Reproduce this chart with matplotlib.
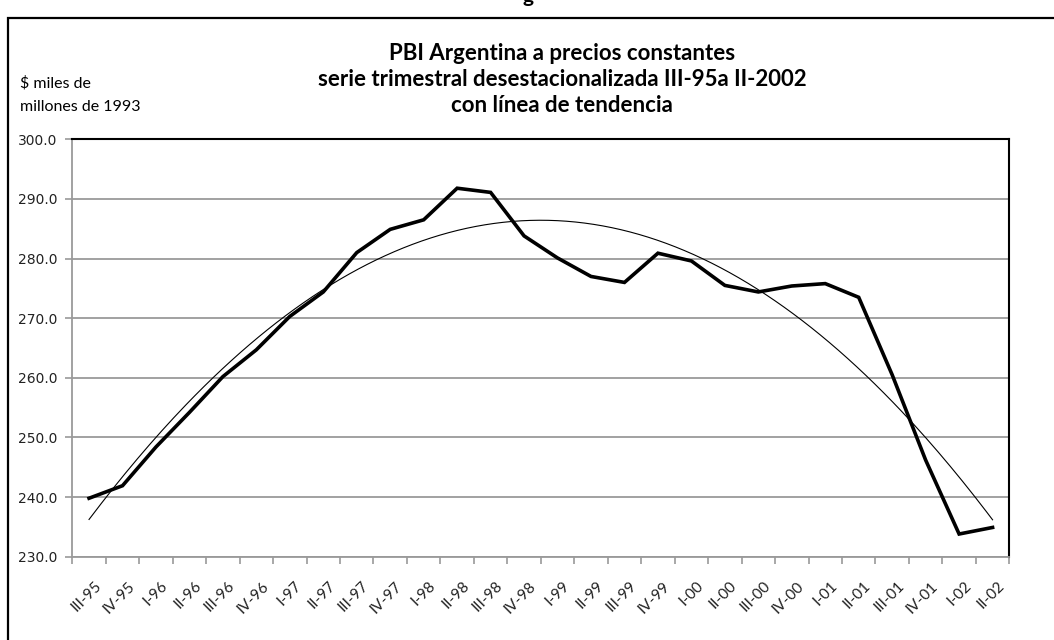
import numpy as np
import matplotlib
matplotlib.use("Agg")
import matplotlib.pyplot as plt
from matplotlib.patches import Rectangle
from matplotlib.transforms import ScaledTranslation

# quarters III-95 .. II-02, PBI in miles de millones de pesos de 1993 (s.a.)
quarters = ["III-95", "IV-95", "I-96", "II-96", "III-96", "IV-96", "I-97", "II-97",
            "III-97", "IV-97", "I-98", "II-98", "III-98", "IV-98", "I-99", "II-99",
            "III-99", "IV-99", "I-00", "II-00", "III-00", "IV-00", "I-01", "II-01",
            "III-01", "IV-01", "I-02", "II-02"]
pbi = [239.8, 241.9, 248.4, 254.2, 260.2, 264.7, 270.3, 274.4,
       281.0, 284.9, 286.5, 291.8, 291.1, 283.8, 280.1, 277.0,
       276.0, 280.9, 279.6, 275.5, 274.4, 275.4, 275.8, 273.5,
       260.5, 246.2, 233.8, 234.9]

y_ticks = [230, 240, 250, 260, 270, 280, 290, 300]

x = np.arange(len(quarters))
# polynomial (order 2) trend line, as in the spreadsheet
coef = np.polyfit(x, pbi, 2)
xs = np.linspace(0, len(quarters) - 1, 300)
trend_s = np.polyval(coef, xs)

fig = plt.figure(figsize=(10.54, 6.4), dpi=100)
ax = fig.add_axes([0.0686, 0.1302, 0.889, 0.6521])

# outer chart frame (continues past the picture edge)
fig.patches.append(Rectangle((7.5 / 1054, -0.1), 1.2, 1 - 18 / 640 + 0.1,
                             transform=fig.transFigure, fill=False,
                             edgecolor="black", linewidth=1.6, zorder=0))
# bit of text cut off above the frame
fig.text(528 / 1054, 1 - 2 / 640, "g", ha="center", va="baseline",
         fontsize=15, fontweight="bold", family="Lato")

ax.plot(xs, trend_s, color="black", linewidth=0.8, zorder=3)
ax.plot(x, pbi, color="black", linewidth=2.6, solid_joinstyle="miter", zorder=4)

ax.set_xlim(-0.5, len(quarters) - 0.5)
ax.set_ylim(230, 300)
ax.set_yticks(y_ticks)
ax.set_yticklabels([f"{v:.1f}" for v in y_ticks], family="DejaVu Sans",
                   fontsize=10, color="#222222")
ax.yaxis.grid(True, color="#9a9a9a", linewidth=1.3)
ax.set_axisbelow(True)

ax.set_xticks(x)
ax.set_xticks(np.arange(len(quarters) + 1) - 0.5, minor=True)
ax.set_xticklabels(quarters, rotation=45, ha="right", rotation_mode="anchor",
                   family="Lato", fontsize=11, color="#222222")
ax.tick_params(axis="x", which="major", length=0, pad=16)
ax.tick_params(axis="x", which="minor", length=5, width=1.2, color="#9a9a9a",
               direction="out")
ax.tick_params(axis="y", length=5, width=1.2, color="#9a9a9a", pad=6)
for lab in ax.get_xticklabels():
    lab.set_transform(lab.get_transform() + ScaledTranslation(5 / 100, 0, fig.dpi_scale_trans))

for s in ["left", "bottom"]:
    ax.spines[s].set_color("#9a9a9a")
    ax.spines[s].set_linewidth(1.3)
for s in ["top", "right"]:
    ax.spines[s].set_color("black")
    ax.spines[s].set_linewidth(1.5)

title_lines = ["PBI Argentina a precios constantes",
               "serie trimestral desestacionalizada III-95a II-2002",
               "con línea de tendencia"]
for line, ypix in zip(title_lines, [53, 79, 105]):
    fig.text(562 / 1054, 1 - ypix / 640, line, ha="center", va="center",
             fontsize=16, fontweight="bold", family="Lato")

fig.text(20 / 1054, 1 - 83 / 640, "$ miles de", ha="left", va="center",
         fontsize=11.5, family="Lato")
fig.text(20 / 1054, 1 - 107 / 640, "millones de 1993", ha="left", va="center",
         fontsize=11.5, family="Lato")

fig.savefig("out.png", dpi=100)
